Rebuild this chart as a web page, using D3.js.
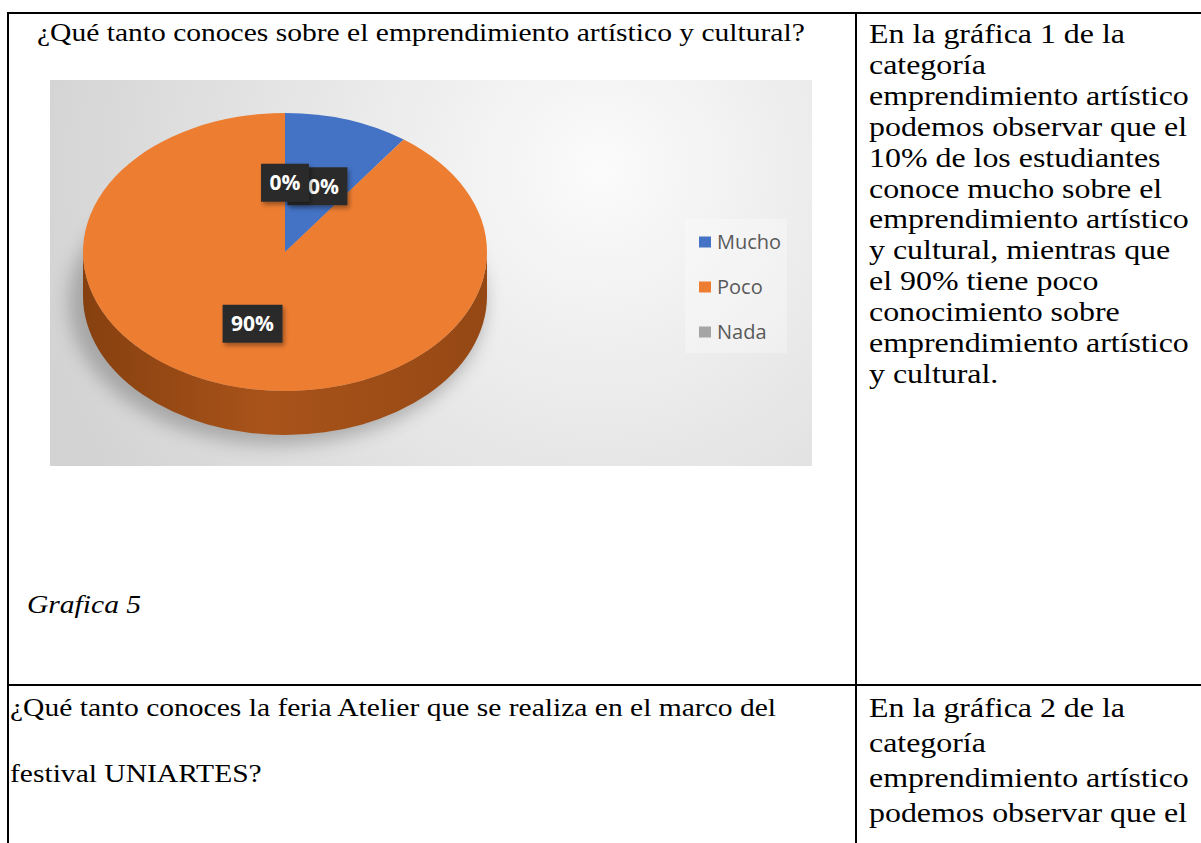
<!DOCTYPE html>
<html>
<head>
<meta charset="utf-8">
<script src="https://cdn.jsdelivr.net/npm/d3@7"></script>
<style>
  body { margin: 0; background: #fff; }
  svg { display: block; }
  .doc { font-family: "Liberation Serif", Tinos, "Times New Roman", Times, serif; fill: #000; }
  .legend text { font-family: "Open Sans", "Noto Sans", sans-serif; fill: #595959; }
  .lbl text { font-family: "Open Sans", "Noto Sans", sans-serif; font-weight: bold; fill: #fff; }
</style>
</head>
<body>
<div id="chart"></div>
<script>

// chart data
const categories = ["Mucho", "Poco", "Nada"];
const values = [10, 90, 0];
const pctLabels = ["10%", "90%", "0%"];

// document text around the chart
const question1 = "¿Qué tanto conoces sobre el emprendimiento artístico y cultural?";
const caption1 = "Grafica 5";
const comment1 = ["En la gráfica 1 de la", "categoría", "emprendimiento artístico",
    "podemos observar que el", "10% de los estudiantes", "conoce mucho sobre el",
    "emprendimiento artístico", "y cultural, mientras que", "el 90% tiene poco",
    "conocimiento sobre", "emprendimiento artístico", "y cultural."];
const question2 = ["¿Qué tanto conoces la feria Atelier que se realiza en el marco del",
    "festival UNIARTES?"];
const comment2 = ["En la gráfica 2 de la", "categoría", "emprendimiento artístico",
    "podemos observar que el"];

const W = 1201, H = 843;
const svg = d3.select("#chart").append("svg")
    .attr("width", W)
    .attr("height", H);

const defs = svg.append("defs");

// ---- table text ----
// the document text is stretched sideways; size the stretch from one known line
let probe = svg.append("text")
    .attr("class", "doc")
    .style("font-size", "27px")
    .text("emprendimiento artístico");
const sx = 320 / probe.node().getComputedTextLength();
probe.remove();

let docText = function(str, x, y, size, italic) {
    svg.append("text")
        .attr("class", "doc")
        .attr("transform", "translate(" + x + "," + y + ") scale(" + sx + ",1)")
        .style("font-size", size + "px")
        .style("font-style", italic ? "italic" : "normal")
        .text(str);
};

// left column is set a little smaller than the comments on the right
docText(question1, 37, 41, 25);
docText(caption1, 27, 613, 25, true);
question2.forEach((s, i) => docText(s, 10, 716 + i * 66, 25));
comment1.forEach((s, i) => docText(s, 869, 43 + i * 30.9, 27));
comment2.forEach((s, i) => docText(s, 869, 717 + i * 35, 27));

// table borders
let borders = [
    [7, 13, W, 13],
    [8, 12, 8, H],
    [856, 13, 856, H],
    [7, 685, W, 685]
];
svg.selectAll("line.border")
    .data(borders)
    .enter()
    .append("line")
    .attr("class", "border")
    .attr("x1", d => d[0]).attr("y1", d => d[1])
    .attr("x2", d => d[2]).attr("y2", d => d[3])
    .attr("stroke", "#000")
    .attr("stroke-width", 2);

// ---- chart picture ----
let img = {x: 50, y: 80, w: 762, h: 386};

let bg = defs.append("radialGradient")
    .attr("id", "bgGrad")
    .attr("gradientUnits", "userSpaceOnUse")
    .attr("cx", 600).attr("cy", 170).attr("r", 580);
bg.append("stop").attr("offset", "0").attr("stop-color", "#fbfbfb");
bg.append("stop").attr("offset", "0.5").attr("stop-color", "#e7e7e7");
bg.append("stop").attr("offset", "1").attr("stop-color", "#d3d3d3");

svg.append("rect")
    .attr("x", img.x).attr("y", img.y)
    .attr("width", img.w).attr("height", img.h)
    .attr("fill", "url(#bgGrad)");

let blur = defs.append("filter").attr("id", "blur")
    .attr("x", "-30%").attr("y", "-30%").attr("width", "160%").attr("height", "160%");
blur.append("feGaussianBlur").attr("stdDeviation", 9);

let drop = defs.append("filter").attr("id", "drop")
    .attr("x", "-30%").attr("y", "-30%").attr("width", "160%").attr("height", "160%");
drop.append("feDropShadow")
    .attr("dx", 2).attr("dy", 3).attr("stdDeviation", 2)
    .attr("flood-color", "#000").attr("flood-opacity", 0.35);

// pie geometry (3D look: ellipse + depth)
let cx = 285, cy = 252, rx = 202, ry = 139, depth = 44;

let color = d3.scaleOrdinal()
    .domain(categories)
    .range(["#4472C4", "#ED7D31", "#A5A5A5"]);
let sideColor = d3.scaleOrdinal()
    .domain(categories)
    .range(["#2f5597", "url(#sideGrad)", "#7b7b7b"]);

let sg = defs.append("linearGradient")
    .attr("id", "sideGrad")
    .attr("gradientUnits", "userSpaceOnUse")
    .attr("x1", cx - rx).attr("x2", cx + rx).attr("y1", 0).attr("y2", 0);
sg.append("stop").attr("offset", "0").attr("stop-color", "#86400f");
sg.append("stop").attr("offset", "0.45").attr("stop-color", "#a9531a");
sg.append("stop").attr("offset", "1").attr("stop-color", "#954814");

let pie = d3.pie().sort(null).value(d => d.value);
let arcsData = pie(categories.map((c, i) => ({name: c, value: values[i], label: pctLabels[i]})));

// shadow under the pie
svg.append("ellipse")
    .attr("cx", cx - 8).attr("cy", cy + depth + 6)
    .attr("rx", rx + 6).attr("ry", ry + 4)
    .attr("fill", "#6b6b6b")
    .attr("opacity", 0.45)
    .attr("filter", "url(#blur)");

// side walls, only the front half (angles PI/2 .. 3PI/2) shows
let ex = a => cx + rx * Math.sin(a);
let ey = a => cy - ry * Math.cos(a);

svg.selectAll("path.side")
    .data(arcsData.filter(d => Math.min(d.endAngle, 1.5 * Math.PI) > Math.max(d.startAngle, 0.5 * Math.PI)))
    .enter()
    .append("path")
    .attr("class", "side")
    .attr("fill", d => sideColor(d.data.name))
    .attr("d", d => {
        let a0 = Math.max(d.startAngle, 0.5 * Math.PI);
        let a1 = Math.min(d.endAngle, 1.5 * Math.PI);
        return "M" + ex(a0) + "," + ey(a0) +
            " A" + rx + "," + ry + " 0 0 1 " + ex(a1) + "," + ey(a1) +
            " L" + ex(a1) + "," + (ey(a1) + depth) +
            " A" + rx + "," + ry + " 0 0 0 " + ex(a0) + "," + (ey(a0) + depth) + " Z";
    });

// top face
let arc = d3.arc().innerRadius(0).outerRadius(rx);
svg.append("g")
    .attr("transform", "translate(" + cx + "," + cy + ") scale(1," + (ry / rx) + ")")
    .selectAll("path")
    .data(arcsData)
    .enter()
    .append("path")
    .attr("d", arc)
    .attr("fill", d => color(d.data.name));

// data labels (dark boxes); the 0% one sits on top of the 10% one, as in Excel
let k = 0.52;
let labels = svg.selectAll("g.lbl")
    .data(arcsData)
    .enter()
    .append("g")
    .attr("class", "lbl")
    .attr("transform", d => {
        let a = (d.startAngle + d.endAngle) / 2;
        return "translate(" + (cx + rx * k * Math.sin(a)) + "," + (cy - ry * k * Math.cos(a) + 3) + ")";
    });

labels.append("rect")
    .attr("fill", "#2b2b2b")
    .attr("filter", "url(#drop)");

labels.append("text")
    .attr("text-anchor", "middle")
    .attr("dy", "0.36em")
    .style("font-size", "21px")
    .text(d => d.data.label);

labels.each(function() {
    let g = d3.select(this);
    let tw = g.select("text").node().getComputedTextLength();
    g.select("rect")
        .attr("x", -(tw + 17) / 2).attr("y", -19)
        .attr("width", tw + 17).attr("height", 38);
});

// legend
let legend = svg.append("g").attr("class", "legend");
legend.append("rect")
    .attr("x", 685).attr("y", 219)
    .attr("width", 102).attr("height", 134)
    .attr("fill", "#ffffff")
    .attr("opacity", 0.3);

let legendY = d3.scalePoint()
    .domain(categories)
    .range([242, 332]);

let items = legend.selectAll("g.item")
    .data(categories)
    .enter()
    .append("g")
    .attr("class", "item")
    .attr("transform", d => "translate(699," + legendY(d) + ")");

items.append("rect")
    .attr("x", 0).attr("y", -5.5)
    .attr("width", 12).attr("height", 11)
    .attr("fill", d => color(d));

items.append("text")
    .attr("x", 18)
    .attr("dy", "0.35em")
    .style("font-size", "20px")
    .text(d => d);

</script>
</body>
</html>
